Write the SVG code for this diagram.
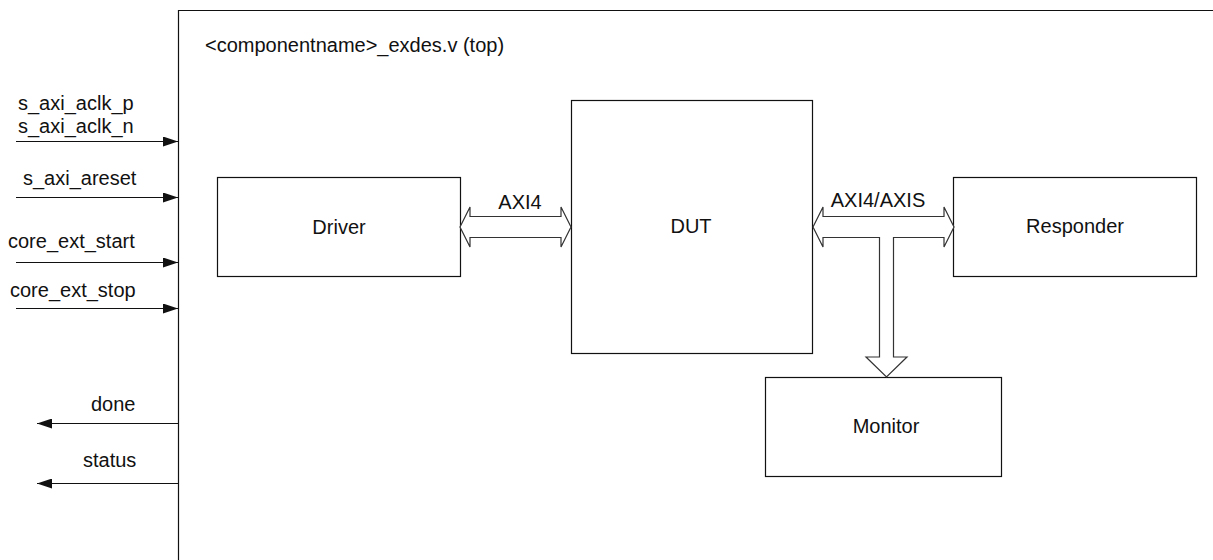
<svg xmlns="http://www.w3.org/2000/svg" width="1213" height="560" viewBox="0 0 1213 560">
  <style>
    text { font-family: "Liberation Sans", Arial, sans-serif; font-size: 20px; fill: #111; }
    .mid { text-anchor: middle; }
    .box { fill: #fff; stroke: #111; stroke-width: 1.2; }
    .sig { stroke: #111; stroke-width: 1.2; fill: none; }
    .bus { fill: #fff; stroke: #333; stroke-width: 1.2; stroke-linejoin: miter; }
  </style>
  <defs>
    <marker id="tri" viewBox="0 0 15 10" refX="15" refY="5" markerWidth="15" markerHeight="10" markerUnits="userSpaceOnUse" orient="auto">
      <path d="M0,0 L15,5 L0,10 Z" fill="#111"/>
    </marker>
  </defs>

  <rect width="1213" height="560" fill="#fff"/>

  <!-- top-level wrapper boundary -->
  <g id="top">
    <path class="sig" d="M178.5,561 V10.5 H1214"/>
    <text x="205" y="52">&lt;componentname&gt;_exdes.v (top)</text>
  </g>

  <g id="driver">
    <rect class="box" x="217.5" y="177.5" width="243" height="99"/>
    <text class="mid" x="339" y="234">Driver</text>
  </g>

  <g id="dut">
    <rect class="box" x="571.5" y="100.5" width="241" height="253"/>
    <text class="mid" x="691" y="233">DUT</text>
  </g>

  <g id="responder">
    <rect class="box" x="953.5" y="177.5" width="243" height="99"/>
    <text class="mid" x="1075" y="233">Responder</text>
  </g>

  <g id="monitor">
    <rect class="box" x="765.5" y="377.5" width="236" height="99"/>
    <text class="mid" x="886" y="433">Monitor</text>
  </g>

  <g id="connectors">
    <!-- port signals -->
    <line class="sig" x1="16" y1="141.5" x2="178" y2="141.5" marker-end="url(#tri)"/>
    <line class="sig" x1="16" y1="197.5" x2="178" y2="197.5" marker-end="url(#tri)"/>
    <line class="sig" x1="16" y1="262.5" x2="178" y2="262.5" marker-end="url(#tri)"/>
    <line class="sig" x1="16" y1="308.5" x2="178" y2="308.5" marker-end="url(#tri)"/>
    <line class="sig" x1="178" y1="423.5" x2="37" y2="423.5" marker-end="url(#tri)"/>
    <line class="sig" x1="178" y1="483.5" x2="37" y2="483.5" marker-end="url(#tri)"/>

    <text x="18" y="110">s_axi_aclk_p</text>
    <text x="18" y="133">s_axi_aclk_n</text>
    <text x="23" y="185">s_axi_areset</text>
    <text x="8" y="248">core_ext_start</text>
    <text x="10" y="297">core_ext_stop</text>
    <text x="91" y="411">done</text>
    <text x="83" y="467">status</text>

    <!-- Driver <-> DUT bus -->
    <path class="bus" d="M460,227 L470,207 L470,216.5 L561,216.5 L561,207 L571,227 L561,247 L561,237.5 L470,237.5 L470,247 Z"/>
    <text class="mid" x="520" y="209">AXI4</text>

    <!-- DUT <-> Responder bus with tap to Monitor -->
    <path class="bus" d="M813,227 L823,207 L823,216.5 L944,216.5 L944,207 L954,227 L944,247 L944,237.5 L893.5,237.5 L893.5,357 L907,357 L886.5,377 L866,357 L879.5,357 L879.5,237.5 L823,237.5 L823,247 Z"/>
    <text class="mid" x="878" y="207">AXI4/AXIS</text>
  </g>
</svg>
